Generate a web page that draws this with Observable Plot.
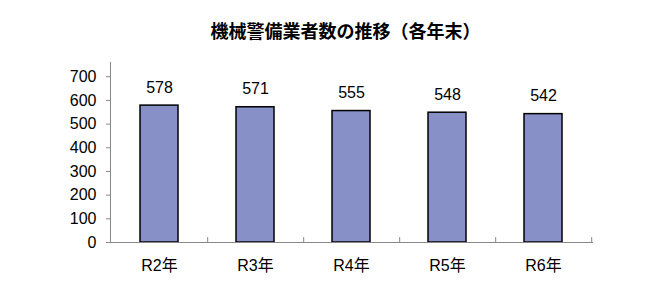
<!DOCTYPE html>
<html><head><meta charset="utf-8">
<script src="https://cdn.jsdelivr.net/npm/d3@7"></script>
<script src="https://cdn.jsdelivr.net/npm/@observablehq/plot@0.6"></script>
<style>
body{margin:0;background:#fff;}
#chart svg{display:block;}
</style></head><body><div id="chart"></div>
<script>
const title = "機械警備業者数の推移（各年末）";
const categories = ["R2年","R3年","R4年","R5年","R6年"];
const values = [578, 571, 555, 548, 542];
const yTicks = [0,100,200,300,400,500,600,700];
const data = categories.map((c,i)=>({cat:c, value:values[i]}));
const font = "'Liberation Sans','Noto Sans CJK JP',sans-serif";

const plot = Plot.plot({
  width: 657, height: 301,
  marginLeft: 110, marginRight: 65, marginTop: 62, marginBottom: 59,
  style: {fontFamily: font, fontSize: "16px", color: "#000", background: "#fff"},
  x: {domain: categories, paddingInner: 0.6, paddingOuter: 0.3, label: null},
  y: {domain: [0, 760], label: null},
  marks: [
    Plot.barY(data, {x: "cat", y: "value", fill: "#8890C8", stroke: "#000", strokeWidth: 1.5}),
    Plot.frame({anchor: "left", stroke: "#888"}),
    Plot.frame({anchor: "bottom", stroke: "#888"}),
    Plot.ruleX(categories, {x: d => d, dx: 48.2, insetTop: 175, stroke: "#888"}),
    Plot.axisY({ticks: yTicks, tickSize: 4, tickPadding: 10, stroke: "#888", fontSize: 16, label: null, tickFormat: d => String(d)}),
    Plot.axisX({tickSize: 0, tickPadding: 17, fontSize: 16, label: null}),
    Plot.text(data, {x: "cat", y: "value", text: d => String(d.value), dy: -18, fontSize: 16, fill: "#000"}),
    Plot.text([title], {frameAnchor: "top", dy: -37, dx: -6, fontSize: 18, fontWeight: "bold", fontFamily: "'Noto Sans CJK JP',sans-serif", fill: "#000"})
  ]
});
document.getElementById("chart").appendChild(plot);
</script></body></html>
